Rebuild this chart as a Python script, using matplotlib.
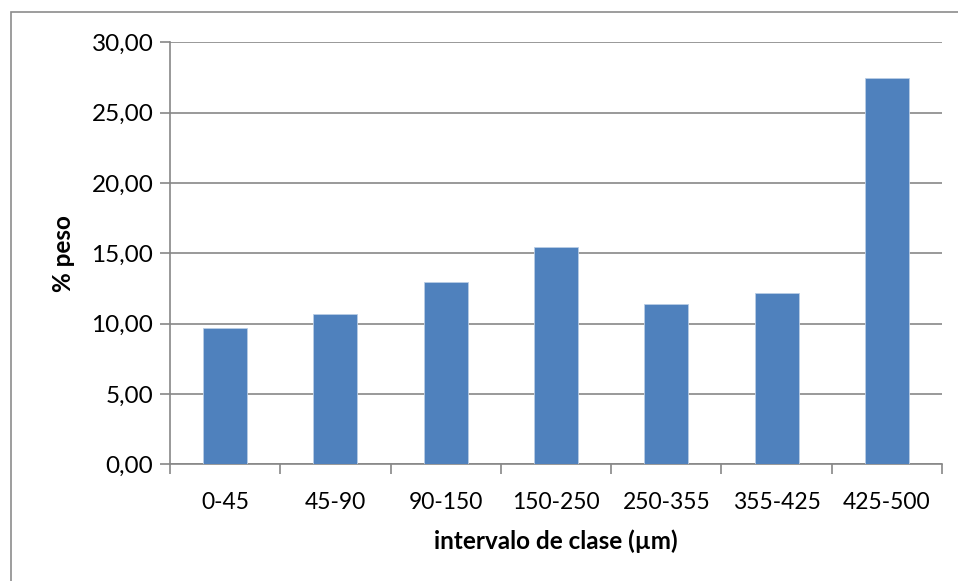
import matplotlib
matplotlib.use("Agg")
import matplotlib.pyplot as plt
from matplotlib.patches import Rectangle
from matplotlib.ticker import FuncFormatter, FixedLocator

categories = ["0-45", "45-90", "90-150", "150-250", "250-355", "355-425", "425-500"]
values = [9.67, 10.67, 12.99, 15.43, 11.40, 12.16, 27.44]
yticks = [0, 5, 10, 15, 20, 25, 30]

plt.rcParams['font.family'] = ['Lato', 'DejaVu Sans']

W, H = 958, 581
fig = plt.figure(figsize=(W / 100, H / 100), dpi=100)
fig.patch.set_facecolor("white")

# outer chart border (only top and left visible)
fig.patches.append(Rectangle((10.5 / W, -0.05), 1.1, (H - 13 + 0.5) / H + 0.05,
                             transform=fig.transFigure, fill=False,
                             edgecolor="#8c8c8c", linewidth=1.2, zorder=0))

ax = fig.add_axes([170 / W, 1 - 464.4 / H, (942 - 170) / W, (464.4 - 42.4) / H])
x = list(range(len(categories)))
ax.bar(x, values, width=0.4, color="#4f81bd", edgecolor="#b9cde5", linewidth=0.6, zorder=3)

ax.set_xlim(-0.5, len(categories) - 0.5)
ax.set_ylim(0, 30)
ax.set_yticks(yticks)
ax.yaxis.set_major_formatter(FuncFormatter(lambda v, p: f"{v:.2f}".replace(".", ",")))
ax.grid(axis="y", color="#878787", linewidth=1.2, zorder=0)

ax.set_xticks(x)
ax.set_xticklabels(categories)
ax.xaxis.set_minor_locator(FixedLocator([i - 0.5 for i in range(len(categories) + 1)]))
ax.tick_params(axis="x", which="major", length=0, pad=20, labelsize=16.5, colors="black")
ax.tick_params(axis="x", which="minor", length=7, width=1.2, color="#878787")
ax.tick_params(axis="y", length=7, width=1.2, color="#878787", labelsize=17.5, pad=5,
               labelcolor="black")

for s in ["top", "right"]:
    ax.spines[s].set_visible(False)
for s in ["left", "bottom"]:
    ax.spines[s].set_color("#878787")
    ax.spines[s].set_linewidth(1.2)

ax.set_ylabel("% peso", fontsize=17.5, fontweight="bold", labelpad=12)
ax.set_xlabel("intervalo de clase (µm)", fontsize=17.5, fontweight="bold", labelpad=12)

fig.savefig("out.png", dpi=100)
